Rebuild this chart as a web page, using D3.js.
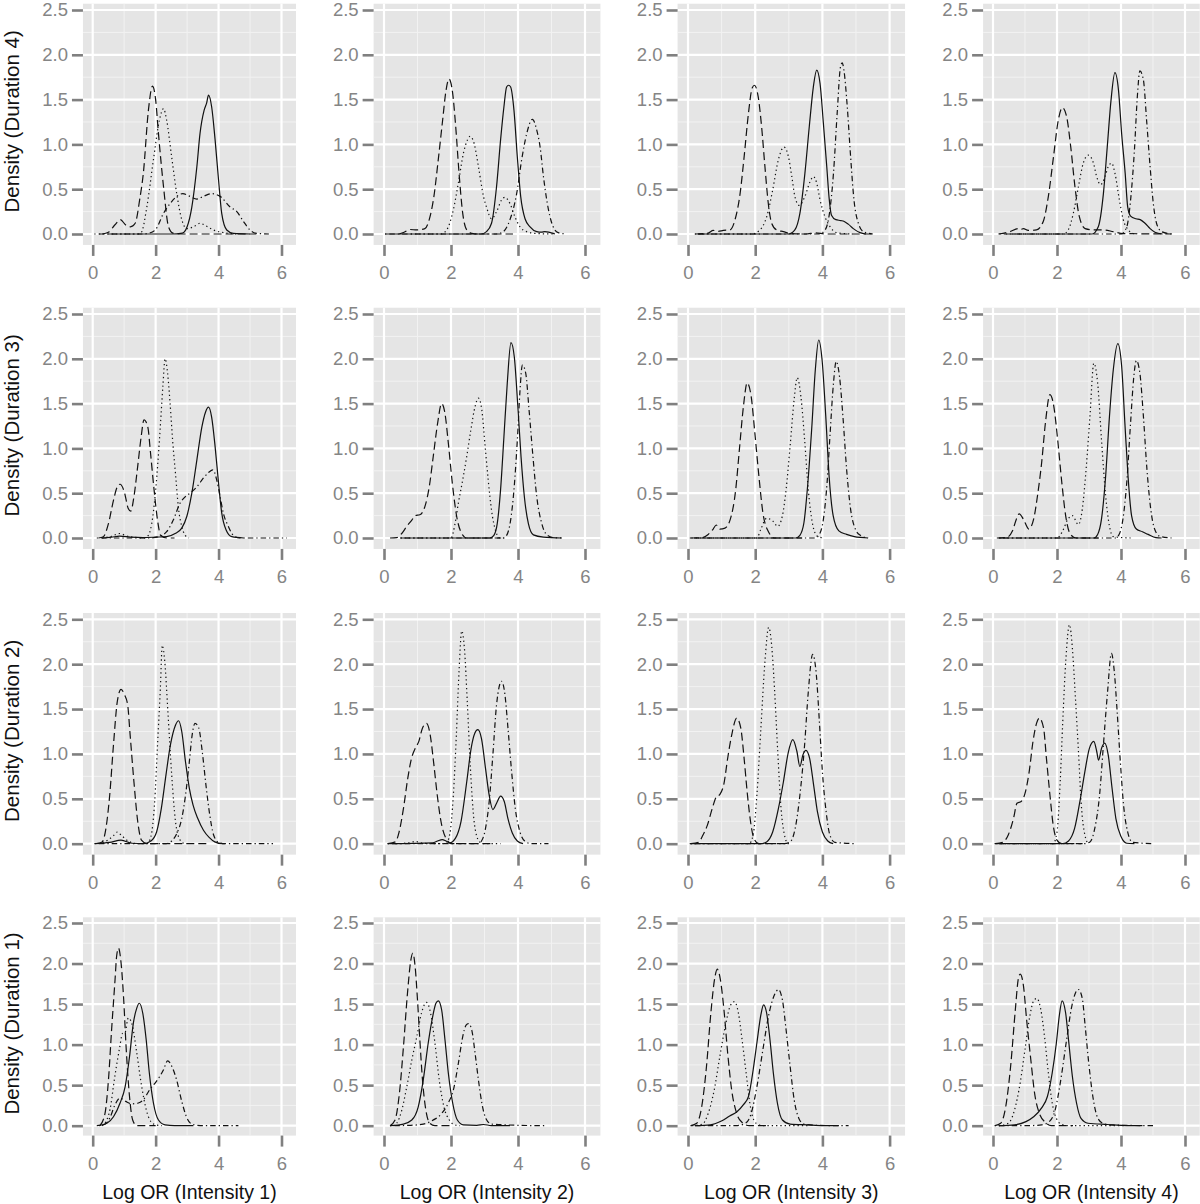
<!DOCTYPE html>
<html><head><meta charset="utf-8">
<script src="https://cdn.jsdelivr.net/npm/d3@7"></script>
<style>body{margin:0;background:#fff}svg{display:block}</style>
</head><body><svg id="chart" width="1200" height="1204"></svg>
<script>
// ---- categories / ticks ----
const durations = ["Duration 4","Duration 3","Duration 2","Duration 1"];
const intensities = ["Intensity 1","Intensity 2","Intensity 3","Intensity 4"];
const lineTypes = ["solid","dashed","dotted","dotdash"];
const xTicks = [0,2,4,6];
const xMinorTicks = [1,3,5];
const yTicks = [0,0.5,1,1.5,2,2.5];
const yTickLabels = ["0.0","0.5","1.0","1.5","2.0","2.5"];
const yMinorTicks = [0.25,0.75,1.25,1.75,2.25];

// ---- density curves: [logOR, density] ----
// Duration 4
const D4_I1_solid = [[0.5,0],[2.5,0],[2.85,0.01],[3.0,0.08],[3.15,0.3],[3.31,0.75],[3.41,1.12],[3.54,1.38],[3.62,1.46],[3.68,1.55],[3.78,1.42],[3.89,1.05],[4.0,0.6],[4.1,0.23],[4.26,0.045],[4.47,0.007],[5.0,0]];
const D4_I1_dashed = [[0.3,0],[0.5,0.02],[0.7,0.1],[0.88,0.16],[1.05,0.1],[1.2,0.08],[1.35,0.12],[1.5,0.4],[1.61,0.68],[1.77,1.38],[1.9,1.65],[2.0,1.5],[2.09,1.12],[2.25,0.53],[2.41,0.08],[2.55,0.01],[2.8,0],[5.2,0]];
const D4_I1_dotted = [[0.2,0],[1.45,0],[1.55,0.02],[1.72,0.3],[1.93,0.83],[2.12,1.27],[2.25,1.4],[2.35,1.27],[2.51,0.86],[2.67,0.45],[2.83,0.16],[2.99,0.06],[3.2,0.08],[3.41,0.12],[3.6,0.09],[3.84,0.045],[4.26,0.01],[4.6,0]];
const D4_I1_dotdash = [[0.05,0],[1.6,0],[1.8,0.01],[2.0,0.05],[2.25,0.23],[2.46,0.34],[2.67,0.42],[2.86,0.45],[3.09,0.42],[3.31,0.39],[3.52,0.42],[3.78,0.45],[4.05,0.42],[4.37,0.3],[4.58,0.25],[4.79,0.14],[5.0,0.045],[5.21,0.007],[5.6,0]];

const D4_I2_solid = [[0.03,0],[2.9,0],[3.06,0.026],[3.21,0.12],[3.36,0.53],[3.48,1.05],[3.58,1.42],[3.66,1.64],[3.72,1.66],[3.78,1.64],[3.88,1.38],[3.98,0.86],[4.08,0.42],[4.21,0.17],[4.36,0.08],[4.56,0.026],[4.7,0.02],[4.8,0.026],[5.05,0.007],[5.1,0]];
const D4_I2_dashed = [[0.45,0],[0.6,0.02],[0.78,0.05],[0.98,0.045],[1.22,0.06],[1.35,0.16],[1.49,0.42],[1.62,0.83],[1.75,1.27],[1.85,1.6],[1.94,1.73],[2.05,1.57],[2.14,1.2],[2.24,0.68],[2.35,0.23],[2.47,0.045],[2.62,0.007],[2.8,0],[3.85,0]];
const D4_I2_dotted = [[0.8,0],[1.7,0],[1.87,0.045],[2.07,0.27],[2.22,0.57],[2.37,0.9],[2.49,1.05],[2.57,1.09],[2.69,1.01],[2.82,0.75],[2.97,0.42],[3.06,0.3],[3.21,0.17],[3.36,0.25],[3.51,0.38],[3.61,0.41],[3.76,0.34],[3.91,0.19],[4.06,0.08],[4.26,0.026],[4.56,0.005],[5.05,0]];
const D4_I2_dotdash = [[0.03,0],[3.35,0],[3.56,0.026],[3.76,0.16],[3.96,0.45],[4.11,0.83],[4.26,1.12],[4.43,1.28],[4.56,1.16],[4.66,0.97],[4.76,0.64],[4.91,0.27],[5.05,0.08],[5.2,0.015],[5.45,0]];

const D4_I3_solid = [[0.3,0],[3.0,0],[3.18,0.045],[3.33,0.23],[3.48,0.68],[3.61,1.2],[3.73,1.64],[3.83,1.83],[3.93,1.68],[4.03,1.23],[4.13,0.75],[4.2,0.4],[4.27,0.21],[4.4,0.16],[4.55,0.15],[4.65,0.14],[4.77,0.11],[4.92,0.06],[5.12,0.015],[5.3,0]];
const D4_I3_dashed = [[0.21,0],[0.6,0.01],[0.75,0.04],[0.9,0.03],[1.05,0.04],[1.25,0.045],[1.4,0.16],[1.55,0.45],[1.67,0.86],[1.8,1.35],[1.91,1.63],[1.98,1.66],[2.09,1.53],[2.19,1.2],[2.29,0.75],[2.39,0.34],[2.49,0.12],[2.64,0.045],[2.84,0.026],[3.04,0.005],[3.5,0],[3.8,0.012],[4.1,0],[5.57,0]];
const D4_I3_dotted = [[0.3,0],[1.9,0],[2.14,0.045],[2.34,0.19],[2.52,0.49],[2.69,0.83],[2.86,0.97],[2.99,0.86],[3.09,0.64],[3.18,0.42],[3.31,0.32],[3.48,0.42],[3.63,0.58],[3.73,0.64],[3.83,0.57],[3.93,0.38],[4.08,0.19],[4.23,0.08],[4.42,0.015],[4.9,0]];
const D4_I3_dotdash = [[0.2,0],[3.9,0],[4.08,0.045],[4.21,0.23],[4.33,0.68],[4.44,1.35],[4.54,1.87],[4.59,1.91],[4.64,1.83],[4.74,1.42],[4.84,0.86],[4.94,0.38],[5.07,0.12],[5.22,0.026],[5.5,0]];

const D4_I4_solid = [[0.5,0],[3.1,0],[3.29,0.08],[3.45,0.45],[3.57,0.97],[3.69,1.5],[3.81,1.8],[3.92,1.61],[4.02,1.12],[4.13,0.68],[4.21,0.3],[4.3,0.2],[4.47,0.17],[4.6,0.16],[4.75,0.12],[4.91,0.06],[5.06,0.02],[5.3,0]];
const D4_I4_dashed = [[0.17,0],[0.53,0.026],[0.79,0.06],[0.87,0.05],[0.95,0.06],[1.1,0.04],[1.36,0.045],[1.57,0.14],[1.73,0.42],[1.89,0.86],[2.04,1.27],[2.17,1.41],[2.3,1.31],[2.43,0.97],[2.56,0.53],[2.7,0.19],[2.88,0.06],[3.14,0.045],[3.45,0.045],[3.76,0.026],[4.07,0.005],[5.58,0]];
const D4_I4_dotted = [[0.4,0],[2.2,0],[2.35,0.045],[2.51,0.23],[2.67,0.53],[2.82,0.79],[2.98,0.88],[3.14,0.79],[3.24,0.64],[3.36,0.55],[3.5,0.64],[3.6,0.75],[3.71,0.79],[3.81,0.68],[3.95,0.38],[4.07,0.16],[4.23,0.045],[4.39,0.005],[4.5,0]];
const D4_I4_dotdash = [[0.2,0],[4.0,0],[4.18,0.08],[4.3,0.38],[4.42,0.94],[4.51,1.53],[4.59,1.82],[4.7,1.72],[4.8,1.27],[4.91,0.75],[5.01,0.34],[5.11,0.12],[5.27,0.026],[5.6,0]];

// Duration 3
const D3_I1_solid = [[0.3,0],[0.6,0.01],[0.85,0.02],[1.2,0.01],[1.6,0.005],[2.03,0.01],[2.35,0.015],[2.62,0.05],[2.83,0.11],[2.99,0.24],[3.15,0.5],[3.31,0.87],[3.47,1.24],[3.59,1.41],[3.68,1.46],[3.78,1.35],[3.89,1.02],[4.0,0.61],[4.1,0.28],[4.24,0.09],[4.42,0.015],[4.8,0]];
const D3_I1_dashed = [[0.18,0],[0.34,0.015],[0.5,0.16],[0.66,0.42],[0.78,0.57],[0.87,0.6],[1.0,0.52],[1.13,0.33],[1.21,0.3],[1.31,0.46],[1.43,0.8],[1.54,1.13],[1.63,1.32],[1.75,1.24],[1.84,0.94],[1.95,0.54],[2.06,0.2],[2.16,0.03],[2.35,0],[2.6,0]];
const D3_I1_dotted = [[0.3,0],[0.6,0.02],[0.85,0.05],[1.1,0.02],[1.4,0.005],[1.61,0],[1.77,0.03],[1.91,0.24],[2.01,0.57],[2.12,1.09],[2.23,1.69],[2.3,2.0],[2.38,1.84],[2.46,1.5],[2.54,1.09],[2.64,0.68],[2.72,0.35],[2.83,0.13],[2.94,0.03],[3.06,0]];
const D3_I1_dotdash = [[0.13,0],[1.82,0],[2.14,0.02],[2.35,0.07],[2.56,0.2],[2.78,0.39],[2.94,0.46],[3.09,0.5],[3.31,0.57],[3.52,0.67],[3.68,0.73],[3.82,0.76],[3.94,0.65],[4.05,0.46],[4.15,0.28],[4.31,0.13],[4.47,0.03],[4.68,0],[6.17,0]];

const D3_I2_solid = [[0.5,0],[3.16,0],[3.28,0.03],[3.38,0.16],[3.48,0.54],[3.58,1.13],[3.68,1.73],[3.79,2.18],[3.89,2.02],[3.99,1.5],[4.09,0.91],[4.19,0.46],[4.31,0.16],[4.46,0.035],[4.76,0.01],[5.3,0]];
const D3_I2_dashed = [[0.18,0],[0.38,0.005],[0.53,0.05],[0.68,0.13],[0.83,0.2],[0.93,0.25],[1.07,0.26],[1.22,0.35],[1.35,0.57],[1.47,0.91],[1.6,1.28],[1.72,1.5],[1.82,1.39],[1.92,1.06],[2.04,0.61],[2.17,0.24],[2.32,0.05],[2.47,0],[3.5,0]];
const D3_I2_dotted = [[0.48,0],[2.0,0],[2.12,0.16],[2.22,0.39],[2.35,0.65],[2.47,0.91],[2.59,1.2],[2.72,1.47],[2.82,1.56],[2.92,1.43],[3.01,1.06],[3.11,0.65],[3.21,0.31],[3.34,0.07],[3.46,0],[3.61,0]];
const D3_I2_dotdash = [[0.5,0],[3.56,0],[3.66,0.03],[3.78,0.2],[3.88,0.54],[3.98,1.09],[4.06,1.65],[4.13,1.93],[4.23,1.84],[4.33,1.43],[4.43,0.98],[4.56,0.46],[4.71,0.16],[4.86,0.035],[5.05,0.005],[5.3,0]];

const D3_I3_solid = [[0.3,0],[3.21,0],[3.33,0.03],[3.45,0.17],[3.56,0.58],[3.68,1.21],[3.79,1.88],[3.89,2.21],[3.99,1.99],[4.1,1.36],[4.2,0.69],[4.32,0.25],[4.49,0.08],[4.72,0.04],[4.95,0.015],[5.36,0]];
const D3_I3_dashed = [[0.08,0],[0.43,0.005],[0.6,0.04],[0.75,0.1],[0.84,0.145],[0.95,0.1],[1.1,0.11],[1.26,0.21],[1.42,0.54],[1.53,0.99],[1.65,1.47],[1.76,1.73],[1.88,1.58],[1.99,1.17],[2.11,0.69],[2.23,0.28],[2.38,0.08],[2.58,0],[3.4,0]];
const D3_I3_dotted = [[0.1,0],[2.05,0],[2.17,0.1],[2.34,0.22],[2.52,0.19],[2.67,0.13],[2.81,0.25],[2.92,0.54],[3.04,1.03],[3.16,1.55],[3.25,1.79],[3.36,1.58],[3.47,1.1],[3.58,0.54],[3.7,0.17],[3.85,0.02],[4.03,0]];
const D3_I3_dotdash = [[0.05,0],[3.79,0],[3.91,0.04],[4.03,0.21],[4.14,0.62],[4.23,1.17],[4.33,1.73],[4.41,1.97],[4.51,1.8],[4.61,1.36],[4.72,0.77],[4.84,0.32],[4.98,0.1],[5.13,0.03],[5.36,0]];

const D3_I4_solid = [[0.2,0],[3.15,0],[3.27,0.04],[3.39,0.21],[3.52,0.69],[3.64,1.36],[3.76,1.88],[3.9,2.17],[4.02,1.92],[4.12,1.29],[4.22,0.69],[4.33,0.25],[4.48,0.1],[4.67,0.07],[4.85,0.04],[5.09,0.005],[5.27,0]];
const D3_I4_dashed = [[0.12,0],[0.42,0.005],[0.61,0.08],[0.73,0.21],[0.82,0.27],[0.95,0.21],[1.12,0.1],[1.27,0.21],[1.39,0.47],[1.52,0.84],[1.64,1.29],[1.78,1.6],[1.9,1.47],[2.02,1.1],[2.15,0.62],[2.27,0.25],[2.42,0.04],[2.6,0],[3.3,0]];
const D3_I4_dotted = [[0.18,0],[2.0,0],[2.18,0.08],[2.34,0.21],[2.48,0.25],[2.67,0.15],[2.79,0.32],[2.91,0.77],[3.03,1.36],[3.15,1.95],[3.27,1.73],[3.39,1.1],[3.52,0.47],[3.64,0.13],[3.76,0.015],[4.3,0]];
const D3_I4_dotdash = [[0.2,0],[3.82,0],[3.94,0.04],[4.06,0.21],[4.18,0.62],[4.3,1.29],[4.4,1.8],[4.48,1.98],[4.59,1.84],[4.7,1.36],[4.81,0.77],[4.93,0.32],[5.05,0.1],[5.21,0.02],[5.58,0]];

// Duration 2
const D2_I1_solid = [[0.06,0],[0.54,0.015],[0.9,0.04],[1.25,0.005],[1.61,0],[1.85,0.03],[2.03,0.13],[2.18,0.39],[2.33,0.77],[2.47,1.1],[2.63,1.32],[2.73,1.37],[2.83,1.25],[2.95,0.91],[3.07,0.62],[3.19,0.43],[3.34,0.28],[3.52,0.15],[3.7,0.07],[3.88,0.02],[4.12,0],[4.2,0]];
const D2_I1_dashed = [[0.12,0],[0.3,0.02],[0.42,0.17],[0.54,0.54],[0.66,1.1],[0.78,1.58],[0.9,1.72],[1.01,1.66],[1.11,1.55],[1.19,1.21],[1.31,0.69],[1.43,0.25],[1.55,0.04],[1.73,0],[3.7,0]];
const D2_I1_dotted = [[0.18,0],[0.48,0.04],[0.66,0.09],[0.78,0.13],[0.92,0.09],[1.13,0.03],[1.37,0.002],[1.73,0],[1.85,0.08],[1.97,0.47],[2.06,1.1],[2.15,1.73],[2.21,2.21],[2.29,2.03],[2.39,1.47],[2.51,0.77],[2.63,0.25],[2.78,0.04],[2.92,0]];
const D2_I1_dotdash = [[0.06,0],[2.33,0],[2.51,0.03],[2.68,0.12],[2.83,0.28],[2.95,0.54],[3.07,0.91],[3.16,1.21],[3.25,1.34],[3.37,1.29],[3.48,1.03],[3.6,0.65],[3.72,0.32],[3.84,0.1],[4.0,0.015],[4.2,0],[5.73,0]];

const D2_I2_solid = [[0.11,0],[1.46,0.01],[1.6,0.03],[1.74,0.045],[1.85,0.03],[1.96,0.01],[2.13,0.06],[2.3,0.25],[2.47,0.69],[2.6,1.06],[2.71,1.23],[2.8,1.27],[2.91,1.17],[3.03,0.84],[3.14,0.54],[3.25,0.38],[3.36,0.45],[3.48,0.53],[3.59,0.47],[3.7,0.28],[3.83,0.12],[3.98,0.03],[4.15,0]];
const D2_I2_dashed = [[0.11,0],[0.34,0.02],[0.45,0.13],[0.58,0.39],[0.71,0.73],[0.82,0.95],[0.93,1.06],[1.04,1.14],[1.15,1.29],[1.27,1.34],[1.38,1.21],[1.48,0.91],[1.59,0.54],[1.7,0.25],[1.85,0.06],[2.02,0],[3.2,0]];
const D2_I2_dotted = [[0.34,0],[0.75,0.01],[0.95,0.025],[1.15,0.005],[1.46,0],[1.85,0],[1.96,0.1],[2.07,0.54],[2.16,1.21],[2.24,1.92],[2.32,2.37],[2.4,2.18],[2.49,1.55],[2.58,0.84],[2.69,0.25],[2.83,0.03],[2.95,0],[3.48,0]];
const D2_I2_dotdash = [[0.11,0],[2.8,0],[2.91,0.03],[3.03,0.17],[3.14,0.47],[3.25,0.99],[3.36,1.55],[3.51,1.81],[3.61,1.66],[3.7,1.29],[3.81,0.8],[3.92,0.39],[4.06,0.13],[4.2,0.03],[4.4,0],[4.91,0]];

const D2_I3_solid = [[0.08,0],[2.17,0],[2.34,0.02],[2.52,0.13],[2.69,0.39],[2.84,0.69],[2.98,1.01],[3.12,1.16],[3.24,1.03],[3.33,0.86],[3.42,0.99],[3.51,1.04],[3.62,0.95],[3.74,0.65],[3.85,0.36],[4.0,0.13],[4.16,0.03],[4.32,0]];
const D2_I3_dashed = [[0.08,0],[0.31,0.015],[0.45,0.1],[0.58,0.21],[0.72,0.39],[0.84,0.52],[0.95,0.55],[1.07,0.67],[1.18,0.95],[1.3,1.21],[1.45,1.4],[1.57,1.29],[1.67,0.95],[1.76,0.58],[1.86,0.25],[1.96,0.06],[2.11,0],[3.0,0]];
const D2_I3_dotted = [[0.08,0],[1.82,0],[1.94,0.1],[2.05,0.54],[2.17,1.29],[2.29,2.03],[2.4,2.41],[2.49,2.21],[2.58,1.69],[2.67,1.03],[2.77,0.39],[2.87,0.1],[2.98,0],[3.0,0]];
const D2_I3_dotdash = [[0.05,0],[2.87,0],[3.04,0.02],[3.19,0.17],[3.33,0.54],[3.47,1.1],[3.58,1.69],[3.71,2.11],[3.82,1.88],[3.91,1.36],[4.0,0.8],[4.11,0.36],[4.22,0.1],[4.37,0.015],[5.01,0]];

const D2_I4_solid = [[0.1,0],[2.18,0],[2.36,0.03],[2.55,0.17],[2.73,0.5],[2.87,0.8],[3.01,1.06],[3.15,1.14],[3.24,1.03],[3.3,0.93],[3.39,1.06],[3.49,1.12],[3.6,0.99],[3.72,0.62],[3.84,0.28],[4.0,0.08],[4.18,0.005],[4.42,0]];
const D2_I4_dashed = [[0.06,0],[0.3,0.015],[0.48,0.1],[0.64,0.28],[0.75,0.45],[0.88,0.47],[1.0,0.56],[1.13,0.8],[1.25,1.14],[1.36,1.34],[1.45,1.4],[1.58,1.29],[1.67,0.95],[1.78,0.54],[1.88,0.21],[2.0,0.04],[2.15,0],[2.8,0]];
const D2_I4_dotted = [[0.1,0],[1.88,0],[2.0,0.13],[2.1,0.69],[2.18,1.36],[2.28,2.07],[2.39,2.44],[2.48,2.18],[2.57,1.66],[2.67,1.03],[2.76,0.43],[2.87,0.1],[2.99,0],[3.0,0]];
const D2_I4_dotdash = [[0.05,0],[2.85,0],[3.03,0.02],[3.18,0.17],[3.33,0.54],[3.45,1.1],[3.58,1.69],[3.7,2.12],[3.79,1.92],[3.88,1.47],[3.98,0.91],[4.08,0.43],[4.21,0.13],[4.36,0.015],[5.03,0]];

// Duration 1
const D1_I1_solid = [[0.13,0],[0.45,0.03],[0.66,0.11],[0.87,0.28],[1.03,0.48],[1.17,0.85],[1.29,1.26],[1.4,1.45],[1.48,1.51],[1.59,1.39],[1.7,1.06],[1.8,0.65],[1.93,0.28],[2.09,0.07],[2.3,0.01],[2.6,0],[3.2,0]];
const D1_I1_dashed = [[0.23,0],[0.39,0.15],[0.5,0.56],[0.6,1.18],[0.71,1.8],[0.76,2.09],[0.82,2.19],[0.89,2.05],[0.98,1.59],[1.06,0.98],[1.17,0.36],[1.27,0.07],[1.4,0],[2.0,0]];
const D1_I1_dotted = [[0.3,0],[0.42,0.05],[0.55,0.2],[0.7,0.6],[0.85,0.95],[0.95,1.14],[1.03,1.15],[1.13,1.33],[1.25,1.25],[1.4,0.9],[1.55,0.5],[1.7,0.2],[1.85,0.05],[2.0,0.01],[2.2,0]];
const D1_I1_dotdash = [[0.2,0],[0.4,0.02],[0.55,0.1],[0.7,0.25],[0.87,0.34],[1.05,0.3],[1.24,0.27],[1.45,0.28],[1.61,0.32],[1.82,0.45],[2.03,0.55],[2.25,0.69],[2.38,0.8],[2.55,0.7],[2.67,0.56],[2.83,0.3],[2.99,0.1],[3.15,0.02],[3.5,0],[4.63,0]];

const D1_I2_solid = [[0.18,0],[0.58,0.02],[0.83,0.07],[1.02,0.23],[1.17,0.56],[1.32,1.02],[1.45,1.34],[1.55,1.51],[1.62,1.54],[1.72,1.43],[1.82,1.06],[1.92,0.65],[2.05,0.28],[2.19,0.07],[2.37,0.01],[2.77,0.005],[2.97,0.015],[3.2,0.002],[3.76,0]];
const D1_I2_dashed = [[0.18,0],[0.33,0.07],[0.46,0.4],[0.58,0.97],[0.7,1.63],[0.8,2.04],[0.86,2.13],[0.93,1.96],[1.0,1.55],[1.07,1.06],[1.15,0.56],[1.25,0.19],[1.37,0.03],[1.52,0],[2.0,0]];
const D1_I2_dotted = [[0.28,0],[0.38,0.03],[0.53,0.19],[0.68,0.48],[0.83,0.81],[0.98,1.1],[1.12,1.39],[1.27,1.52],[1.39,1.39],[1.52,1.02],[1.65,0.56],[1.79,0.23],[1.95,0.07],[2.12,0.01],[2.27,0]];
const D1_I2_dotdash = [[0.18,0],[0.8,0.005],[1.17,0.02],[1.47,0.07],[1.72,0.15],[1.92,0.28],[2.07,0.44],[2.22,0.77],[2.35,1.1],[2.45,1.24],[2.52,1.26],[2.62,1.18],[2.72,0.89],[2.82,0.56],[2.92,0.28],[3.04,0.09],[3.21,0.02],[3.66,0.01],[4.0,0.005],[4.8,0]];

const D1_I3_solid = [[0.2,0],[0.66,0.01],[1.01,0.06],[1.24,0.12],[1.45,0.17],[1.65,0.26],[1.8,0.36],[1.94,0.69],[2.05,1.02],[2.17,1.37],[2.25,1.49],[2.34,1.39],[2.44,1.06],[2.54,0.65],[2.66,0.28],[2.81,0.07],[3.04,0.02],[3.56,0.01],[4.03,0.002],[4.49,0]];
const D1_I3_dashed = [[0.08,0],[0.26,0.03],[0.41,0.24],[0.55,0.73],[0.68,1.39],[0.8,1.83],[0.87,1.93],[0.96,1.81],[1.07,1.43],[1.18,0.9],[1.3,0.44],[1.45,0.15],[1.61,0.04],[1.82,0],[2.4,0]];
const D1_I3_dotted = [[0.12,0],[0.43,0.02],[0.6,0.15],[0.78,0.44],[0.95,0.86],[1.13,1.27],[1.26,1.48],[1.38,1.53],[1.5,1.39],[1.61,1.06],[1.73,0.65],[1.84,0.28],[1.96,0.07],[2.11,0.01],[2.3,0],[3.6,0]];
const D1_I3_dotdash = [[0.08,0],[1.47,0.002],[1.71,0.03],[1.88,0.15],[2.05,0.48],[2.23,0.94],[2.4,1.36],[2.58,1.62],[2.69,1.68],[2.81,1.55],[2.92,1.18],[3.04,0.73],[3.16,0.32],[3.3,0.09],[3.45,0.02],[3.8,0.005],[4.78,0]];

const D1_I4_solid = [[0.18,0],[0.67,0.01],[1.03,0.05],[1.27,0.11],[1.52,0.22],[1.7,0.36],[1.85,0.65],[1.98,1.02],[2.07,1.35],[2.16,1.54],[2.27,1.39],[2.36,1.06],[2.48,0.61],[2.61,0.28],[2.75,0.09],[2.97,0.03],[3.58,0.015],[4.18,0.002],[4.67,0]];
const D1_I4_dashed = [[0.06,0],[0.24,0.03],[0.4,0.24],[0.55,0.73],[0.7,1.44],[0.79,1.81],[0.85,1.87],[0.95,1.73],[1.05,1.31],[1.18,0.82],[1.3,0.4],[1.45,0.15],[1.64,0.04],[1.82,0],[2.5,0]];
const D1_I4_dotted = [[0.18,0],[0.48,0.03],[0.67,0.19],[0.85,0.53],[1.0,0.94],[1.15,1.35],[1.27,1.54],[1.37,1.57],[1.49,1.44],[1.61,1.1],[1.73,0.65],[1.85,0.28],[1.98,0.09],[2.15,0.015],[2.4,0],[4.12,0]];
const D1_I4_dotdash = [[0.05,0],[1.03,0],[1.52,0.01],[1.76,0.05],[1.94,0.19],[2.12,0.57],[2.3,1.06],[2.46,1.47],[2.58,1.64],[2.67,1.68],[2.79,1.57],[2.88,1.23],[2.99,0.78],[3.12,0.36],[3.24,0.13],[3.39,0.04],[3.64,0.01],[5.0,0]];

// grid of panels: rows = durations (4..1), cols = intensities (1..4)
const panelData = [
  [[D4_I1_solid,D4_I1_dashed,D4_I1_dotted,D4_I1_dotdash],[D4_I2_solid,D4_I2_dashed,D4_I2_dotted,D4_I2_dotdash],[D4_I3_solid,D4_I3_dashed,D4_I3_dotted,D4_I3_dotdash],[D4_I4_solid,D4_I4_dashed,D4_I4_dotted,D4_I4_dotdash]],
  [[D3_I1_solid,D3_I1_dashed,D3_I1_dotted,D3_I1_dotdash],[D3_I2_solid,D3_I2_dashed,D3_I2_dotted,D3_I2_dotdash],[D3_I3_solid,D3_I3_dashed,D3_I3_dotted,D3_I3_dotdash],[D3_I4_solid,D3_I4_dashed,D3_I4_dotted,D3_I4_dotdash]],
  [[D2_I1_solid,D2_I1_dashed,D2_I1_dotted,D2_I1_dotdash],[D2_I2_solid,D2_I2_dashed,D2_I2_dotted,D2_I2_dotdash],[D2_I3_solid,D2_I3_dashed,D2_I3_dotted,D2_I3_dotdash],[D2_I4_solid,D2_I4_dashed,D2_I4_dotted,D2_I4_dotdash]],
  [[D1_I1_solid,D1_I1_dashed,D1_I1_dotted,D1_I1_dotdash],[D1_I2_solid,D1_I2_dashed,D1_I2_dotted,D1_I2_dotdash],[D1_I3_solid,D1_I3_dashed,D1_I3_dotted,D1_I3_dotdash],[D1_I4_solid,D1_I4_dashed,D1_I4_dotted,D1_I4_dotdash]]
];

// ---- layout (pixel geometry) ----
const colX0 = [92.7, 384, 688, 993];      // pixel of x = 0
const colX6 = [281.5, 585, 889.6, 1185];  // pixel of x = 6
const rowY0 = [234, 538, 843.7, 1125.7];  // pixel of y = 0
const rowY25 = [10, 314, 619.3, 923];     // pixel of y = 2.5
const xDomain = [-0.31, 6.46];
const yDomain = [-0.122, 2.57];
const dashes = {solid: null, dashed: "8,4", dotted: "1.3,3", dotdash: "1.3,3,5.5,3"};
const FONT = "'Liberation Sans', Arial, Helvetica, sans-serif";

const svg = d3.select("#chart");
svg.append("rect").attr("width",1200).attr("height",1204).attr("fill","#fff");

panelData.forEach((row, r) => {
  row.forEach((curves, c) => {
    const x = d3.scaleLinear().domain([0,6]).range([colX0[c], colX6[c]]);
    const y = d3.scaleLinear().domain([0,2.5]).range([rowY0[r], rowY25[r]]);
    const left = x(xDomain[0]), right = x(xDomain[1]);
    const top = y(yDomain[1]), bottom = y(yDomain[0]);
    const g = svg.append("g");

    g.append("rect").attr("x",left).attr("y",top).attr("width",right-left).attr("height",bottom-top).attr("fill","#E5E5E5");
    // minor grid
    g.selectAll(null).data(xMinorTicks).join("line")
      .attr("x1",d=>x(d)).attr("x2",d=>x(d)).attr("y1",top).attr("y2",bottom)
      .attr("stroke","#F2F2F2").attr("stroke-width",1);
    g.selectAll(null).data(yMinorTicks).join("line")
      .attr("y1",d=>y(d)).attr("y2",d=>y(d)).attr("x1",left).attr("x2",right)
      .attr("stroke","#F2F2F2").attr("stroke-width",1);
    // major grid
    g.selectAll(null).data(xTicks).join("line")
      .attr("x1",d=>x(d)).attr("x2",d=>x(d)).attr("y1",top).attr("y2",bottom)
      .attr("stroke","#fff").attr("stroke-width",2.2);
    g.selectAll(null).data(yTicks).join("line")
      .attr("y1",d=>y(d)).attr("y2",d=>y(d)).attr("x1",left).attr("x2",right)
      .attr("stroke","#fff").attr("stroke-width",2.2);

    // curves
    const line = d3.line().x(d=>x(d[0])).y(d=>y(d[1])).curve(d3.curveMonotoneX);
    curves.forEach((pts, i) => {
      g.append("path").attr("d", line(pts)).attr("fill","none")
        .attr("stroke","#111").attr("stroke-width",1.2)
        .attr("stroke-dasharray", dashes[lineTypes[i]]);
    });

    // axes
    const ya = g.append("g").attr("transform",`translate(${left},0)`)
      .call(d3.axisLeft(y).tickValues(yTicks).tickFormat((d,i)=>yTickLabels[i]).tickSize(11).tickPadding(4));
    const xa = g.append("g").attr("transform",`translate(0,${bottom})`)
      .call(d3.axisBottom(x).tickValues(xTicks).tickFormat(d3.format("d")).tickSize(11).tickPadding(10));
    [ya, xa].forEach(a => {
      a.select(".domain").remove();
      a.selectAll(".tick line").attr("stroke","#808080").attr("stroke-width",2.6);
      a.selectAll(".tick text").attr("fill","#858585").style("font-family",FONT).style("font-size","18.5px");
    });

    if (c === 0) {
      g.append("text").attr("transform",`translate(18.5,${(top+bottom)/2 - 3}) rotate(-90)`)
        .attr("text-anchor","middle").style("font-family",FONT).style("font-size","20.5px")
        .attr("fill","#111").text(`Density (${durations[r]})`);
    }
    if (r === 3) {
      g.append("text").attr("x",(left+right)/2).attr("y",1199)
        .attr("text-anchor","middle").style("font-family",FONT).style("font-size","19.5px")
        .attr("fill","#111").text(`Log OR (${intensities[c]})`);
    }
  });
});
</script>
</body></html>
